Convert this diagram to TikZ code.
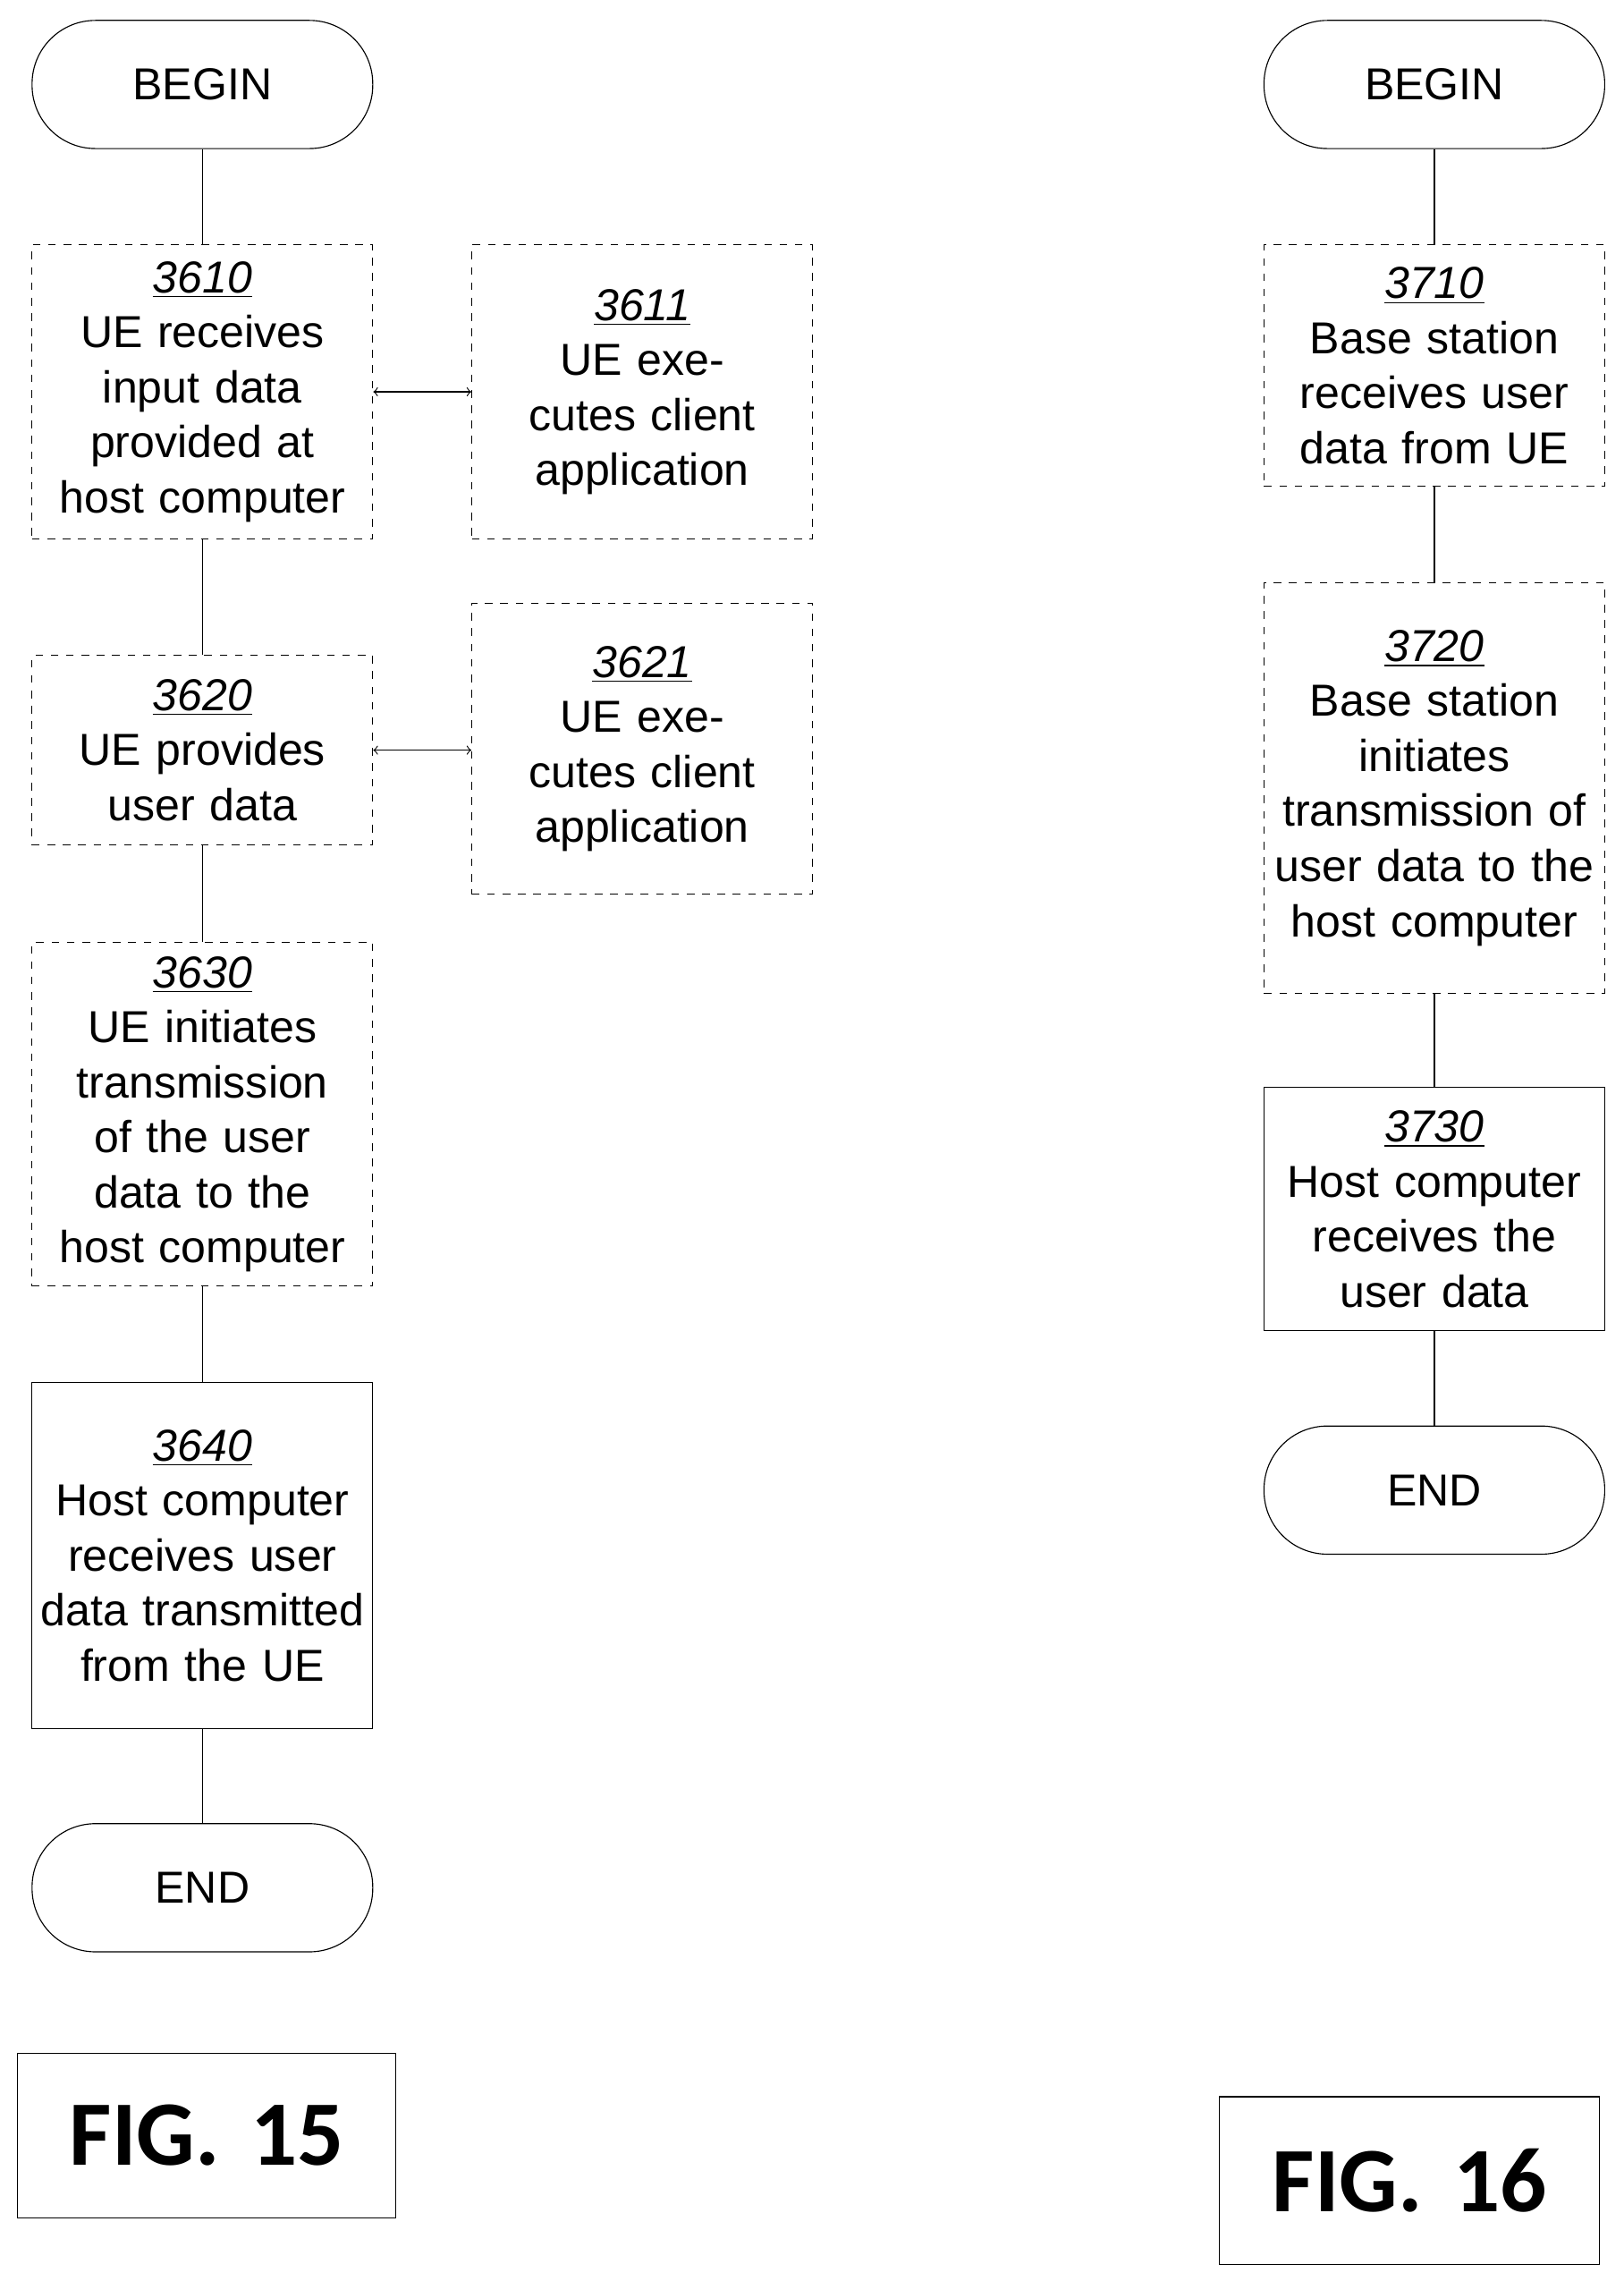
\documentclass[tikz,border=0pt]{standalone}
\usepackage{fontspec}
\setmainfont{Liberation Sans}
\newfontfamily\figfont{Carlito}
\usetikzlibrary{positioning}
\newcommand{\stepno}[1]{\underline{\textit{#1}}\\}

\begin{document}
\begin{tikzpicture}[
	x=0.02cm, y=-0.02cm,
	every node/.style={font=\fontsize{17.5}{21.5}\selectfont,align=center,text width=4.5cm,inner sep=0pt},
	terminal/.style={draw,rounded corners=0.87cm,minimum width=4.68cm,minimum height=1.76cm},
	flowstep/.style={draw,dashed,minimum width=4.68cm},
	solidstep/.style={draw,minimum width=4.68cm},
	figlabel/.style={draw,font=\figfont\bfseries\fontsize{36}{40}\selectfont,text width=5.2cm}
]
\useasboundingbox (0,0) rectangle (1115,1566);

% FIG. 15
\node[terminal] (b15) at (139,58) {BEGIN};
\node[flowstep,minimum height=4.04cm] (s3610) at (139,269) {\stepno{3610}UE receives input data provided at host computer};
\node[flowstep,minimum height=4.04cm] (s3611) at (441,269) {\stepno{3611}UE executes client application};
\node[flowstep,minimum height=2.6cm] (s3620) at (139,515) {\stepno{3620}UE provides user data};
\node[flowstep,minimum height=4.0cm] (s3621) at (441,514) {\stepno{3621}UE executes client application};
\node[flowstep,minimum height=4.72cm] (s3630) at (139,765) {\stepno{3630}UE initiates transmission of the user data to the host computer};
\node[solidstep,minimum height=4.76cm] (s3640) at (139,1068) {\stepno{3640}Host computer receives user data transmitted from the UE};
\node[terminal] (e15) at (139,1296) {END};
\node[figlabel,minimum width=5.18cm,minimum height=2.26cm] (f15) at (142,1466) {FIG. 15};

\draw (b15) -- (s3610);
\draw (s3610) -- (s3620);
\draw (s3620) -- (s3630);
\draw (s3630) -- (s3640);
\draw (s3640) -- (e15);
\draw[<->] (s3610) -- (s3611);
\draw[<->] (s3620.east) -- (s3620.east -| s3621.west);

% FIG. 16
\node[terminal] (b16) at (985,58) {BEGIN};
\node[flowstep,minimum height=3.32cm] (s3710) at (985,251) {\stepno{3710}Base station receives user data from UE};
\node[flowstep,minimum height=5.64cm] (s3720) at (985,541) {\stepno{3720}Base station initiates transmission of user data to the host computer};
\node[solidstep,minimum height=3.34cm] (s3730) at (985,830) {\stepno{3730}Host computer receives the user data};
\node[terminal] (e16) at (985,1023) {END};
\node[figlabel,text width=5cm,minimum width=5.22cm,minimum height=2.3cm] (f16) at (968,1497) {FIG. 16};

\draw (b16) -- (s3710);
\draw (s3710) -- (s3720);
\draw (s3720) -- (s3730);
\draw (s3730) -- (e16);
\end{tikzpicture}
\end{document}
